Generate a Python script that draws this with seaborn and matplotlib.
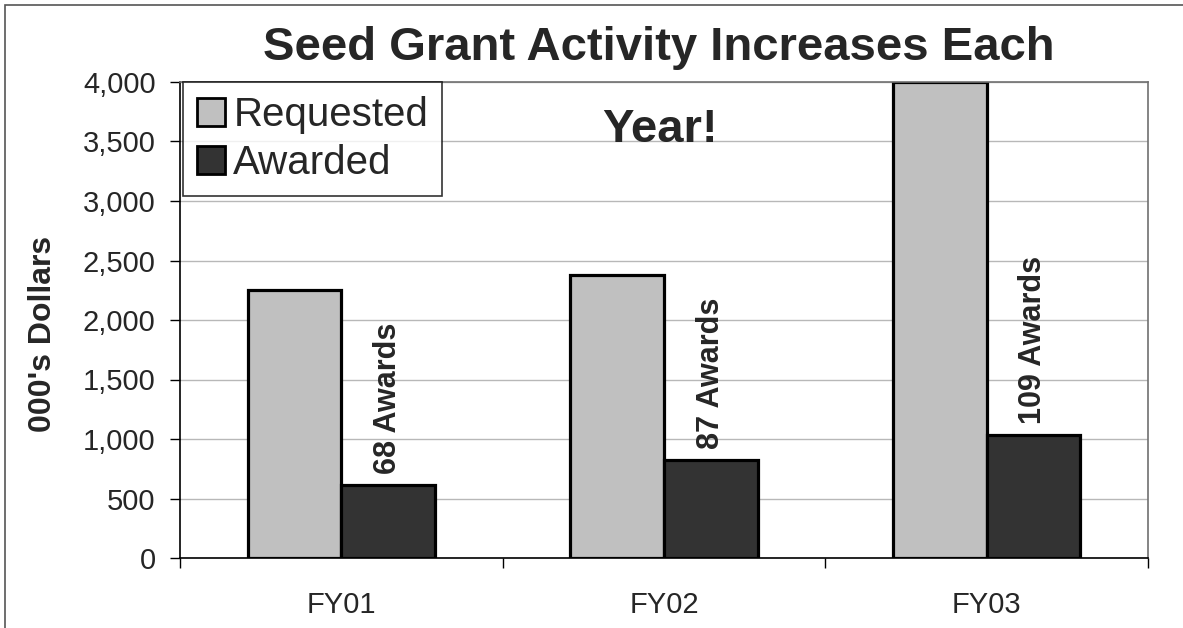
import matplotlib
matplotlib.use('Agg')
import matplotlib.pyplot as plt
import matplotlib.ticker as mticker
from matplotlib.patches import Patch, Rectangle
import seaborn as sns
import pandas as pd

# chart data
years = ['FY01', 'FY02', 'FY03']
requested = [2250, 2380, 4000]
awarded = [610, 820, 1030]
award_counts = [68, 87, 109]

df = pd.DataFrame({
    'Year': years * 2,
    'Dollars': requested + awarded,
    'Type': ['Requested'] * 3 + ['Awarded'] * 3,
})

sns.set_style('white')
plt.rcParams['font.family'] = ['Liberation Sans', 'DejaVu Sans']

colors = {'Requested': '#c0c0c0', 'Awarded': '#333333'}

fig = plt.figure(figsize=(11.83, 6.28), dpi=100)
ax = fig.add_axes([180 / 1183, 1 - 558 / 628, 968 / 1183, 476 / 628])

sns.barplot(data=df, x='Year', y='Dollars', hue='Type', palette=colors,
            width=0.58, edgecolor='black', linewidth=2.3, ax=ax, legend=False)

ax.set_xlim(-0.5, 2.5)
ax.set_ylim(0, 4000)
ax.yaxis.set_major_locator(mticker.MultipleLocator(500))
ax.yaxis.set_major_formatter(mticker.FuncFormatter(lambda v, p: f'{int(v):,}'))
ax.grid(axis='y', color='#b8b8b8', linewidth=1)
ax.set_axisbelow(True)

ax.set_xlabel('')
ax.set_ylabel("000's Dollars", fontsize=23, fontweight='bold')
ax.yaxis.set_label_coords(-(180 - 58) / 968, 0.47)
ax.tick_params(axis='y', labelsize=21, length=7.5, width=1, color='black', left=True,
               direction='out', pad=10)
ax.tick_params(axis='x', labelsize=21, length=0, pad=24)
ax.xaxis.set_minor_locator(mticker.FixedLocator([-0.5, 0.5, 1.5, 2.5]))
ax.tick_params(axis='x', which='minor', length=7, width=1, color='black', bottom=True)

for side in ['left', 'bottom']:
    ax.spines[side].set_color('black')
    ax.spines[side].set_linewidth(1.2)
for side in ['top', 'right']:
    ax.spines[side].set_color('#707070')
    ax.spines[side].set_linewidth(1.2)

# award count labels above the awarded bars
for i, (val, n) in enumerate(zip(awarded, award_counts)):
    ax.text(i + 0.145, val + 100, f'{n} Awards', rotation=90, ha='center', va='bottom',
            fontsize=22, fontweight='bold')

handles = [Patch(facecolor=colors[k], edgecolor='black', linewidth=2) for k in ['Requested', 'Awarded']]
leg = ax.legend(handles, ['Requested', 'Awarded'], loc='upper left', bbox_to_anchor=(0.003, 1.0),
                fontsize=29, frameon=True, fancybox=False, handlelength=0.7, handleheight=0.7,
                handletextpad=0.2, borderpad=0.35, labelspacing=0.25, borderaxespad=0)
leg.get_frame().set_edgecolor('black')
leg.get_frame().set_linewidth(1.2)

fig.text(659 / 1183, 1 - 48 / 628, 'Seed Grant Activity Increases Each', ha='center', va='center',
         fontsize=34, fontweight='bold')
fig.text(660 / 1183, 1 - 130 / 628, 'Year!', ha='center', va='center',
         fontsize=34, fontweight='bold')

fig.patches.append(Rectangle((5 / 1183, -0.1), 2, 1 - 5 / 628 + 0.1, transform=fig.transFigure,
                             fill=False, edgecolor='#555555', linewidth=1.2))

fig.savefig('out.png', dpi=100)
